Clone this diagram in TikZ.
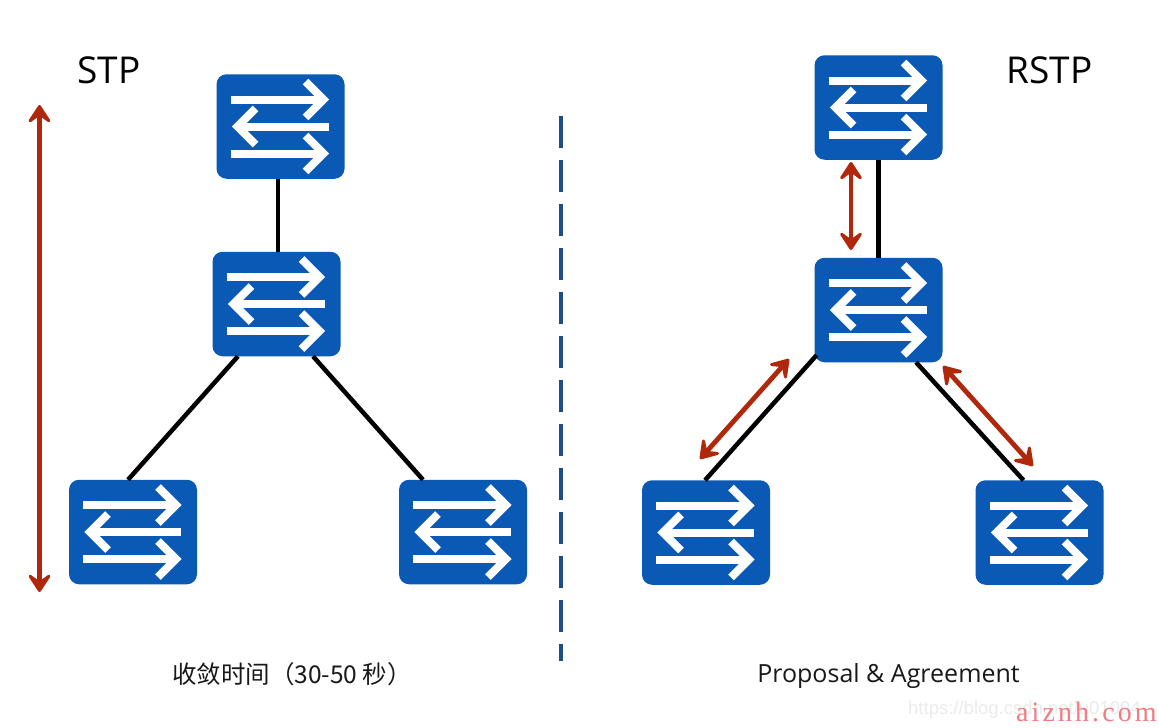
\documentclass[tikz,border=0pt]{standalone}
\usepackage{fontspec}
\setmainfont{Open Sans}
\newfontfamily\cjkfont{Noto Sans CJK SC}
\newfontfamily\wmsans{Liberation Sans}
\newfontfamily\wmserif[LetterSpace=11]{Liberation Serif}
\usetikzlibrary{arrows.meta,calc}
\definecolor{swblue}{HTML}{0A5AB5}
\definecolor{redarrow}{HTML}{B0280C}
\definecolor{dashblue}{HTML}{1F4E86}
\definecolor{wmred}{HTML}{F07C84}
\tikzset{
  switchbox/.style={rectangle,rounded corners=10pt,fill=swblue,minimum width=128pt,minimum height=104.5pt,inner sep=0pt,outer sep=0pt,
    path picture={
      \begin{scope}[shift={(path picture bounding box.center)},sharp corners,draw=white,line width=8pt,miter limit=10]
        \draw (-50,-27) -- (42,-27);
        \draw (25,-45) -- (43,-27) -- (25,-9);
        \draw (48,0) -- (-42,0);
        \draw (-25,-18) -- (-43,0) -- (-25,18);
        \draw (-50,27) -- (42,27);
        \draw (25,9) -- (43,27) -- (25,45);
      \end{scope}
    }},
  link/.style={draw=black,line width=4.5pt},
  redarr/.style={draw=redarrow,line width=4.8pt,{Stealth[length=23pt,width=30pt,inset=11pt,line width=3pt,round]}-{Stealth[length=23pt,width=30pt,inset=11pt,line width=3pt,round]}},
  title/.style={font=\fontsize{37}{40}\selectfont,text=black},
  caption/.style={text=black!90},
}
\begin{document}
\begin{tikzpicture}[x=1pt,y=-1pt]
\useasboundingbox (0,0) rectangle (1159,728);
\fill[white] (0,0) rectangle (1159,728);
% switches
\node[switchbox] (lt) at (280.5,126.5) {};
\node[switchbox] (lm) at (276.5,304) {};
\node[switchbox] (lbl) at (133,532) {};
\node[switchbox] (lbr) at (463,532) {};
\node[switchbox] (rt) at (878.5,107.5) {};
\node[switchbox] (rm) at (878.5,310) {};
\node[switchbox] (rbl) at (706,532.5) {};
\node[switchbox] (rbr) at (1039.5,532.5) {};
% links
\draw[link] ($(lt.south)+(-2.5,0)$) -- ($(lm.north)+(1.5,0)$);
\draw[link] ($(lm.south)+(-38.5,0)$) -- ($(lbl.north)+(-5,0)$);
\draw[link] ($(lm.south)+(36.5,0)$) -- ($(lbr.north)+(-40,0)$);
\draw[link] (rt.south) -- (rm.north);
\draw[link] ($(rm.south)+(-62,-7)$) -- ($(rbl.north)+(-1,0)$);
\draw[link] ($(rm.south)+(37.5,0)$) -- ($(rbr.north)+(-16,0)$);
% red arrows
\coordinate (a1) at (39.5,105);
\coordinate (a2) at (39.5,592);
\coordinate (a3) at (851,162);
\coordinate (a4) at (851,250);
\coordinate (a5) at (789,359);
\coordinate (a6) at (700,459);
\coordinate (a7) at (943,366);
\coordinate (a8) at (1033,466);
\draw[redarr] (a1) -- (a2);
\draw[redarr] (a3) -- (a4);
\draw[redarr] (a5) -- (a6);
\draw[redarr] (a7) -- (a8);
% dashed divider
\coordinate (d1) at (561,116);
\coordinate (d2) at (561,661);
\draw[draw=dashblue,line width=3.5pt,dash pattern=on 32pt off 12pt] (d1) -- (d2);
% labels
\node[title] (stp) at (109,70) {STP};
\node[title] (rstp) at (1049.5,70) {RSTP};
\node[caption,font=\fontsize{24.5}{28}\selectfont] (capl) at (292,674) {\cjkfont 收敛时间（30-50 秒）};
\node[caption,anchor=base,font=\fontsize{25}{28}\selectfont] (capr) at (888.5,682) {Proposal \& Agreement};
% watermark
\node[anchor=west,inner sep=0pt,text=black!8,font=\wmsans\fontsize{18.5}{20}\selectfont] (wm1) at (908,710) {https://blog.csdn.net/u01094};
\node[anchor=base west,inner sep=0pt,text=wmred,font=\wmserif\fontsize{28}{30}\selectfont] (wm2) at (1016,721) {aiznh.com};
\end{tikzpicture}
\end{document}
